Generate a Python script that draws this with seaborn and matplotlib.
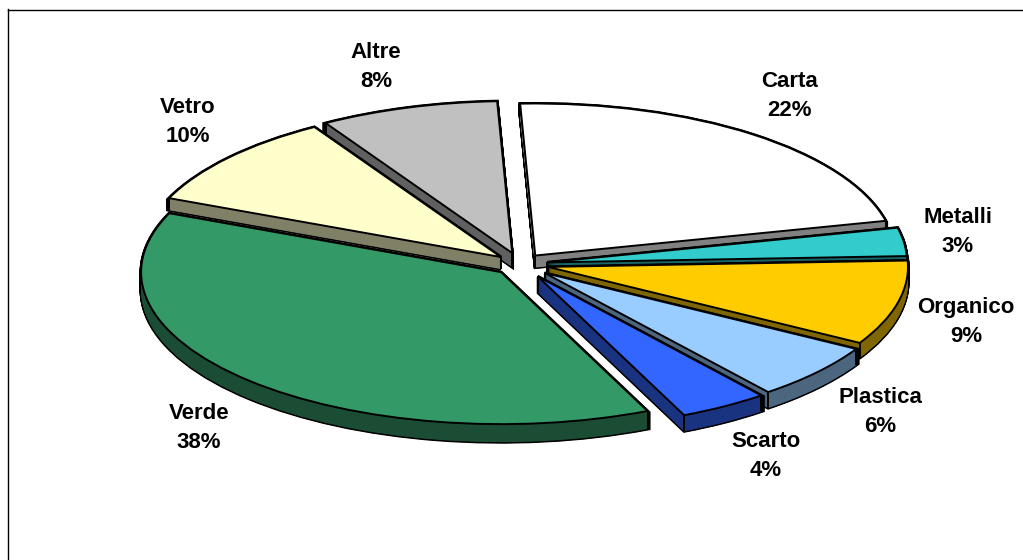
import numpy as np
import seaborn as sns
import matplotlib
matplotlib.use("Agg")
import matplotlib.pyplot as plt

# dati del grafico
categorie = ["Carta", "Metalli", "Organico", "Plastica", "Scarto", "Verde", "Vetro", "Altre"]
percentuali = [22, 3, 9, 6, 4, 38, 10, 8]
colori_hex = ["#FFFFFF", "#33CCCC", "#FFCC00", "#99CCFF", "#3366FF", "#339966", "#FFFFCC", "#C0C0C0"]

# layout in pixel dell'immagine
CX, CY, RX, RY = 520, 264, 360, 152
W, H = 1023, 560
FRAME_X, FRAME_Y = 7.5, 9.5
esplosione = [0.07, 0.076, 0.08, 0.09, 0.095, 0.075, 0.07, 0.075]
spessore = [12, 10, 15, 16, 16, 18, 12, 14]   # altezza del bordo 3D
ordine = [1, 3, 5, 6, 7, 4, 2, 0]             # dal fondo verso il davanti
pos_etichette = [(790, 96), (958, 232), (966, 322), (880, 412),
                 (766, 456), (199, 428), (188, 122), (376, 67)]

sns.set_theme(style="white")
plt.rcParams["font.family"] = ["Liberation Sans", "DejaVu Sans"]

colori = sns.color_palette(colori_hex)
scuri = [tuple(np.array(c) * 0.5) for c in colori]

fig = plt.figure(figsize=(W / 100, H / 100), dpi=100)
ax = fig.add_axes([FRAME_X / W, 0, 1 - FRAME_X / W, 1 - FRAME_Y / H])


def disegna(colors, quota, base, **stile):
    # una copia della torta, abbassata di quota * spessore di ogni fetta
    wedges, _ = ax.pie(percentuali, explode=esplosione, colors=colors, startangle=92.4,
                       counterclock=False, wedgeprops=stile)
    for i, w in enumerate(wedges):
        cx, cy = w.center
        w.set_center((cx, cy - quota * spessore[i] / RY))
        w.set_zorder(ordine[i] * 10 + base)
    return wedges


quote = np.linspace(1, 0, 37)
for q in quote:
    disegna(["black"] * 8, q, 0, edgecolor="black", linewidth=2.2)
for q in quote:
    disegna(scuri, q, 1, edgecolor="none", linewidth=0)
sopra = disegna(colori, 0, 3, edgecolor="black", linewidth=1.4)

# spigoli verticali alle estremita' di ogni fetta
for i, w in enumerate(sopra):
    cx, cy = w.center
    for ang in (w.theta1, w.theta2):
        x = cx + np.cos(np.radians(ang))
        y = cy + np.sin(np.radians(ang))
        ax.plot([x, x], [y, y - spessore[i] / RY], color="black", lw=1.4,
                zorder=ordine[i] * 10 + 2, solid_capstyle="butt")
    ax.plot([cx, cx], [cy, cy - spessore[i] / RY], color="black", lw=1.4,
            zorder=ordine[i] * 10 + 2, solid_capstyle="butt")

ax.set_aspect("auto")
ax.set_xlim((FRAME_X - CX) / RX, (W - CX) / RX)
ax.set_ylim((CY - H) / RY, (CY - FRAME_Y) / RY)
ax.set_xticks([])
ax.set_yticks([])

# cornice: solo sopra e a sinistra
ax.set_frame_on(True)
for lato in ["right", "bottom"]:
    ax.spines[lato].set_visible(False)
for lato in ["top", "left"]:
    ax.spines[lato].set_visible(True)
    ax.spines[lato].set_color("black")
    ax.spines[lato].set_linewidth(1.0)

for nome, val, (px, py) in zip(categorie, percentuali, pos_etichette):
    ax.text((px - CX) / RX, (CY - py) / RY, f"{nome}\n{val}%", ha="center", va="center",
            fontsize=16, fontweight="bold", color="black", linespacing=1.56, zorder=200)

fig.savefig("out.png", dpi=100, facecolor="white")
